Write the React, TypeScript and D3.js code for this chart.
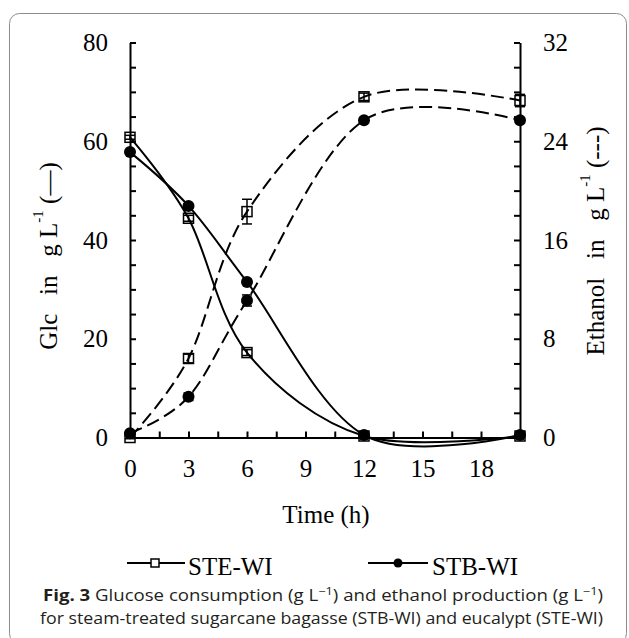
import React, { useRef, useEffect } from "react";
import * as d3 from "d3";

// sampling times (h)
const hours = [0, 3, 6, 12, 20];

// glucose, g/L (left axis, solid)
const glcSTE = [60.8, 44.4, 17.2, 0.3, 0.3];
const glcSTB = [57.8, 46.9, 31.5, 0.5, 0.5];
const glcSTEErr = [0.4, 0.6, 0.6, 0.2, 0.2];
const glcSTBErr = [0.3, 0.4, 0.5, 0.2, 0.2];

// ethanol, g/L (right axis, dashed)
const etoSTE = [0.0, 6.4, 18.3, 27.6, 27.3];
const etoSTB = [0.35, 3.3, 11.1, 25.7, 25.7];
const etoSTEErr = [0.1, 0.35, 1.0, 0.3, 0.5];
const etoSTBErr = [0.1, 0.3, 0.45, 0.2, 0.2];

const xTickValues = [0, 1.5, 3, 4.5, 6, 7.5, 9, 10.5, 12, 13.5, 15, 16.5, 18];
const xTickLabels = [0, 3, 6, 9, 12, 15, 18];
const yLeftTickValues = d3.range(0, 81, 5);
const yLeftTickLabels = [0, 20, 40, 60, 80];
const yRightTickValues = d3.range(0, 33, 2);
const yRightTickLabels = [0, 8, 16, 24, 32];

const W = 629;
const H = 638;
const left = 130;
const right = 520;
const top = 42.5;
const bottom = 437.5;
const serif = "'Liberation Serif', 'Times New Roman', serif";

function App() {
  const svgRef = useRef<SVGSVGElement>(null);

  useEffect(() => {
    const svg = d3.select(svgRef.current);
    svg.selectAll(".plot").remove();
    const g = svg.append("g").attr("class", "plot");

    const x = d3.scaleLinear().domain([0, 20]).range([left, right]);
    const yL = d3.scaleLinear().domain([0, 80]).range([bottom, top]);
    const yR = d3.scaleLinear().domain([0, 32]).range([bottom, top]);

    const styleAxis = (sel: any) => {
      sel.selectAll("path, line").attr("stroke", "#000").attr("stroke-width", 2);
      sel.selectAll("text")
        .attr("font-family", serif)
        .attr("font-size", 25)
        .attr("fill", "#000");
    };

    g.append("g")
      .attr("transform", `translate(0,${bottom})`)
      .call(
        d3.axisBottom(x)
          .tickValues(xTickValues)
          .tickSizeInner(-6)
          .tickSizeOuter(0)
          .tickPadding(22)
          .tickFormat((d: any) => (xTickLabels.includes(d) ? String(d) : ""))
      )
      .call(styleAxis);

    g.append("g")
      .attr("transform", `translate(${left},0)`)
      .call(
        d3.axisLeft(yL)
          .tickValues(yLeftTickValues)
          .tickSizeInner(-6)
          .tickSizeOuter(0)
          .tickPadding(22)
          .tickFormat((d: any) => (yLeftTickLabels.includes(d) ? String(d) : ""))
      )
      .call(styleAxis);

    g.append("g")
      .attr("transform", `translate(${right},0)`)
      .call(
        d3.axisRight(yR)
          .tickValues(yRightTickValues)
          .tickSizeInner(-6)
          .tickSizeOuter(0)
          .tickPadding(23)
          .tickFormat((d: any) => (yRightTickLabels.includes(d) ? String(d) : ""))
      )
      .call(styleAxis);

    const series = [
      { y: yL, vals: glcSTE, err: glcSTEErr, dash: null, mark: "square" },
      { y: yL, vals: glcSTB, err: glcSTBErr, dash: null, mark: "circle" },
      { y: yR, vals: etoSTE, err: etoSTEErr, dash: "13,6", mark: "square" },
      { y: yR, vals: etoSTB, err: etoSTBErr, dash: "13,6", mark: "circle" },
    ];

    series.forEach((s) => {
      const line = d3.line<number>()
        .x((_, i) => x(hours[i]))
        .y((d) => s.y(d))
        .curve(d3.curveCardinal);
      g.append("path")
        .attr("d", line(s.vals))
        .attr("fill", "none")
        .attr("stroke", "#000")
        .attr("stroke-width", 2)
        .attr("stroke-dasharray", s.dash);
    });

    // error bars
    series.forEach((s) => {
      const eb = g.append("g");
      s.vals.forEach((v, i) => {
        const cx = x(hours[i]);
        const y1 = s.y(v + s.err[i]);
        const y2 = s.y(v - s.err[i]);
        eb.append("line").attr("x1", cx).attr("x2", cx).attr("y1", y1).attr("y2", y2)
          .attr("stroke", "#000").attr("stroke-width", 1.5);
        [y1, y2].forEach((yy) =>
          eb.append("line").attr("x1", cx - 5).attr("x2", cx + 5).attr("y1", yy).attr("y2", yy)
            .attr("stroke", "#000").attr("stroke-width", 1.5)
        );
      });
    });

    // markers
    series.forEach((s) => {
      s.vals.forEach((v, i) => {
        const cx = x(hours[i]);
        const cy = s.y(v);
        if (s.mark === "square") {
          g.append("rect")
            .attr("x", cx - 5).attr("y", cy - 5).attr("width", 10).attr("height", 10)
            .attr("fill", "none").attr("stroke", "#000").attr("stroke-width", 1.5);
        } else {
          g.append("circle").attr("cx", cx).attr("cy", cy).attr("r", 6).attr("fill", "#000");
        }
      });
    });
  }, []);

  return (
    <svg
      ref={svgRef}
      width={W}
      height={H}
      style={{ position: "absolute", left: 0, top: 0, background: "#fff" }}
    >
      <rect x={9.5} y={13.5} width={617} height={630} rx={10} fill="#fff" stroke="#8c8c8c" strokeWidth={1} />

      <text
        transform="translate(48,256) rotate(-90)"
        textAnchor="middle"
        dominantBaseline="central"
        fontFamily={serif}
        fontSize={25}
        style={{ whiteSpace: "pre" }}
      >
        {"Glc   in   g L"}
        <tspan fontSize={15} dy={-10}>-1</tspan>
        <tspan dy={10}>{" (—)"}</tspan>
      </text>

      <text
        transform="translate(595,241) rotate(-90)"
        textAnchor="middle"
        dominantBaseline="central"
        fontFamily={serif}
        fontSize={25}
        style={{ whiteSpace: "pre" }}
      >
        {"Ethanol   in   g L"}
        <tspan fontSize={15} dy={-10}>-1</tspan>
        <tspan dy={10}>{" (---)"}</tspan>
      </text>

      <text x={326} y={523} textAnchor="middle" fontFamily={serif} fontSize={25}>
        Time (h)
      </text>

      {/* legend */}
      <g stroke="#000" strokeWidth={2}>
        <line x1={127} x2={185} y1={563} y2={563} />
        <rect x={151} y={559} width={8} height={8} fill="#fff" strokeWidth={1.5} />
        <line x1={368} x2={428} y1={563} y2={563} />
        <circle cx={398} cy={563} r={4.5} fill="#000" stroke="none" />
      </g>
      <text x={188} y={575} fontFamily={serif} fontSize={25}>STE-WI</text>
      <text x={432} y={575} fontFamily={serif} fontSize={25}>STB-WI</text>

      {/* caption */}
      <text x={43} y={601} fontFamily="'Open Sans', sans-serif" fontSize={16} fill="#231f20"
        textLength={560} lengthAdjust="spacingAndGlyphs">
        <tspan fontWeight="bold">Fig. 3</tspan>
        <tspan>{"  Glucose consumption (g L"}</tspan>
        <tspan fontSize={11} dy={-6}>−1</tspan>
        <tspan dy={6}>{") and ethanol production (g L"}</tspan>
        <tspan fontSize={11} dy={-6}>−1</tspan>
        <tspan dy={6}>)</tspan>
      </text>
      <text x={40} y={624} fontFamily="'Open Sans', sans-serif" fontSize={16} fill="#231f20"
        textLength={563} lengthAdjust="spacingAndGlyphs">
        for steam-treated sugarcane bagasse (STB-WI) and eucalypt (STE-WI)
      </text>
    </svg>
  );
}

export default App;
